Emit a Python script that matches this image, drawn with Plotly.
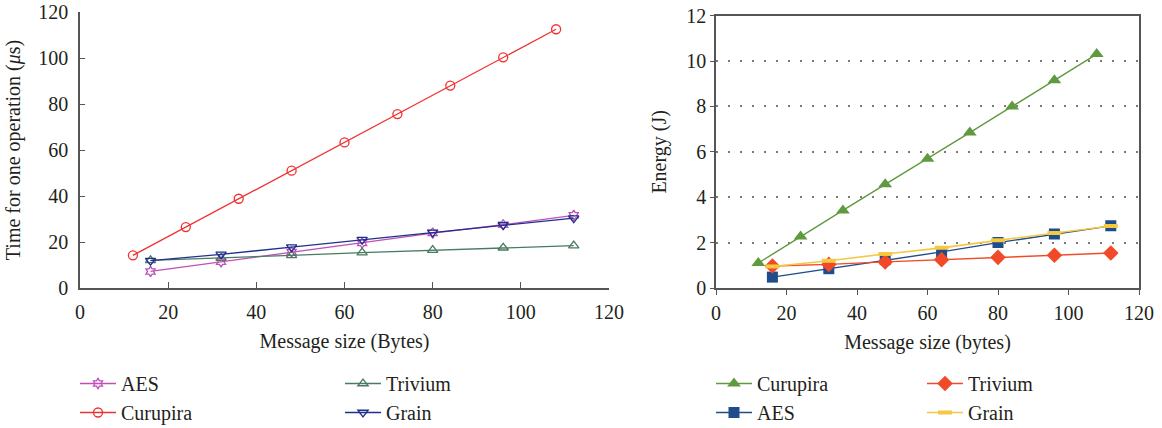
import plotly.graph_objects as go

# ---- data ----
x_curupira = [12, 24, 36, 48, 60, 72, 84, 96, 108]
x_others = [16, 32, 48, 64, 80, 96, 112]

time_aes = [7.2, 11.4, 15.6, 19.6, 23.9, 27.5, 31.6]
time_curupira = [14.2, 26.5, 38.8, 51.0, 63.3, 75.6, 88.0, 100.3, 112.5]
time_trivium = [12.0, 13.0, 14.2, 15.4, 16.5, 17.5, 18.4]
time_grain = [11.9, 14.6, 17.8, 21.0, 24.2, 27.4, 30.4]

energy_curupira = [1.10, 2.27, 3.42, 4.57, 5.70, 6.85, 8.00, 9.16, 10.31]
energy_aes = [0.48, 0.85, 1.25, 1.59, 2.00, 2.38, 2.74]
energy_trivium = [0.97, 1.04, 1.15, 1.25, 1.35, 1.44, 1.54]
energy_grain = [0.95, 1.20, 1.50, 1.77, 2.10, 2.42, 2.73]

x_ticks = [0, 20, 40, 60, 80, 100, 120]
time_ticks = [0, 20, 40, 60, 80, 100, 120]
energy_ticks = [0, 2, 4, 6, 8, 10, 12]

FONT = "Liberation Serif"
TXT = "#231f20"
AX = "#555555"
W, H = 1162, 428
FS = 20

fig = go.Figure()

# ---- left chart ----
fig.add_trace(go.Scatter(x=x_others, y=time_aes, name="AES", mode="lines+markers",
                         line=dict(color="#c050b8", width=1.3),
                         marker=dict(symbol="hexagram-open", size=8, color="#c050b8", line=dict(width=1.3)),
                         xaxis="x", yaxis="y", legend="legend"))
fig.add_trace(go.Scatter(x=x_curupira, y=time_curupira, name="Curupira", mode="lines+markers",
                         line=dict(color="#f03030", width=1.3),
                         marker=dict(symbol="circle-open", size=9, color="#f03030", line=dict(width=1.3)),
                         xaxis="x", yaxis="y", legend="legend"))
fig.add_trace(go.Scatter(x=x_others, y=time_trivium, name="Trivium", mode="lines+markers",
                         line=dict(color="#4a7a62", width=1.3),
                         marker=dict(symbol="triangle-up-open", size=9, color="#4a7a62", line=dict(width=1.3)),
                         xaxis="x", yaxis="y", legend="legend2"))
fig.add_trace(go.Scatter(x=x_others, y=time_grain, name="Grain", mode="lines+markers",
                         line=dict(color="#1f2f8c", width=1.3),
                         marker=dict(symbol="triangle-down-open", size=9, color="#1f2f8c", line=dict(width=1.3)),
                         xaxis="x", yaxis="y", legend="legend2"))

# ---- right chart ----
fig.add_trace(go.Scatter(x=x_curupira, y=energy_curupira, name="Curupira", mode="lines+markers",
                         line=dict(color="#5f9a3f", width=1.4),
                         marker=dict(symbol="triangle-up", size=12, color="#5f9a3f"),
                         xaxis="x2", yaxis="y2", legend="legend3"))
fig.add_trace(go.Scatter(x=x_others, y=energy_aes, name="AES", mode="lines+markers",
                         line=dict(color="#1f4c8a", width=1.4),
                         marker=dict(symbol="square", size=11, color="#1f4c8a"),
                         xaxis="x2", yaxis="y2", legend="legend3"))
fig.add_trace(go.Scatter(x=x_others, y=energy_trivium, name="Trivium", mode="lines+markers",
                         line=dict(color="#f04a28", width=1.4),
                         marker=dict(symbol="diamond", size=12, color="#f04a28"),
                         xaxis="x2", yaxis="y2", legend="legend4"))
fig.add_trace(go.Scatter(x=x_others, y=energy_grain, name="Grain", mode="lines+markers",
                         line=dict(color="#f5c842", width=1.6),
                         marker=dict(symbol="line-ew", size=10, color="#f5c842",
                                     line=dict(width=4, color="#f5c842")),
                         xaxis="x2", yaxis="y2", legend="legend4"))

tickfont = dict(family=FONT, size=FS, color=TXT)
titlefont = dict(family=FONT, size=FS, color=TXT)

def px_x(p):
    return p / W

def px_y(p):
    return 1 - p / H

leg_common = dict(font=dict(family=FONT, size=FS, color=TXT), bgcolor="rgba(0,0,0,0)",
                  orientation="v", xanchor="left", yanchor="top", tracegroupgap=0,
                  itemwidth=36)

fig.update_layout(
    width=W, height=H, margin=dict(l=0, r=0, t=0, b=0, autoexpand=False),
    paper_bgcolor="white", plot_bgcolor="white",
    font=dict(family=FONT, color=TXT),
    xaxis=dict(domain=[px_x(80), px_x(609)], range=[0, 120], tickvals=x_ticks, automargin=False,
               showline=True, linecolor=AX, linewidth=1.6, ticks="inside", ticklen=6,
               tickcolor=AX, tickwidth=1.2, showgrid=False, zeroline=False,
               tickfont=tickfont, ticklabelstandoff=5,
               title=dict(text="Message size (Bytes)", font=titlefont, standoff=12),
               anchor="y"),
    yaxis=dict(domain=[px_y(288), px_y(12)], range=[0, 120], tickvals=time_ticks, automargin=False,
               showline=True, linecolor=AX, linewidth=1.6, ticks="inside", ticklen=5,
               tickcolor=AX, tickwidth=1.2, showgrid=False, zeroline=False,
               tickfont=tickfont, ticklabelstandoff=6,
               title=dict(text="Time for one operation (<i>μ</i>s)", font=titlefont, standoff=12),
               anchor="x"),
    xaxis2=dict(domain=[px_x(716), px_x(1139)], range=[0, 120], tickvals=x_ticks, automargin=False,
                showline=True, linecolor=AX, linewidth=1.6, mirror=True, ticks="outside", ticklen=5,
                tickcolor=AX, tickwidth=1.2, showgrid=False, zeroline=False,
                tickfont=tickfont, ticklabelstandoff=1,
                title=dict(text="Message size (bytes)", font=titlefont, standoff=12),
                anchor="y2"),
    yaxis2=dict(domain=[px_y(288), px_y(15.7)], range=[0, 12], tickvals=energy_ticks, automargin=False,
                showline=True, linecolor=AX, linewidth=1.6, mirror=True, ticks="outside", ticklen=4,
                tickcolor=AX, tickwidth=1.2, showgrid=True, gridcolor="#7a7a7a", gridwidth=1.5,
                griddash="1.5px,10.5px", zeroline=False,
                tickfont=tickfont, ticklabelstandoff=0,
                title=dict(text="Energy (J)", font=titlefont, standoff=14),
                anchor="x2"),
    legend=dict(x=px_x(75), y=px_y(364), **leg_common),
    legend2=dict(x=px_x(340), y=px_y(364), **leg_common),
    legend3=dict(x=px_x(711), y=px_y(364), **leg_common),
    legend4=dict(x=px_x(922), y=px_y(364), **leg_common),
)

fig.write_html("out.html")
